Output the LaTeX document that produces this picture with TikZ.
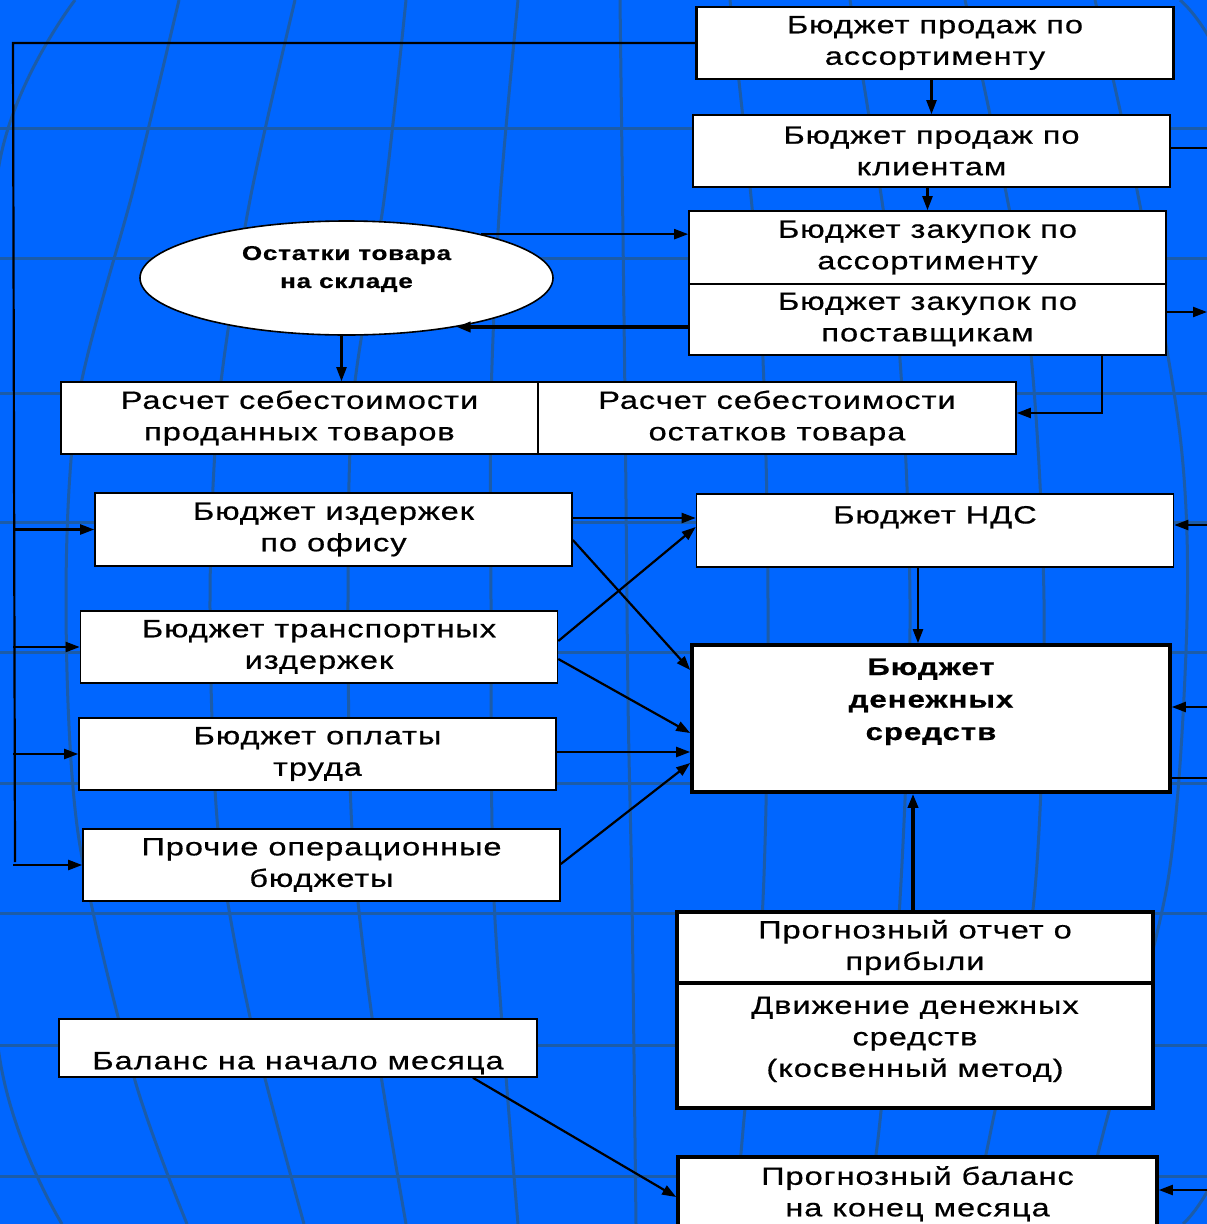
\documentclass[tikz,border=0pt]{standalone}
\usepackage{fontspec}
\setmainfont{Liberation Sans}[FakeStretch=1.3,LetterSpace=4,FakeBold=0.6]
\usetikzlibrary{arrows.meta,shapes.geometric}

\definecolor{slideblue}{RGB}{0,102,255}
\definecolor{gridblue}{RGB}{28,92,168}

\begin{document}
\begin{tikzpicture}[x=1pt,y=-1pt,
    box/.style={draw=black,fill=white,line width=1.6pt,minimum width=477pt,
      minimum height=72pt,inner sep=0pt,align=center,
      font=\fontsize{25}{31.5}\selectfont},
    heavy/.style={box,line width=3.6pt},
    arr/.style={line width=2.2pt,-{Triangle[length=14pt,width=10pt]}},
    link/.style={line width=2.2pt},
    mer/.style={gridblue,line width=3pt}]

      % Bounding box
      \fill[slideblue] (0,0) rectangle (1207,1224);
      \useasboundingbox (0,0) rectangle (1207,1224);

      % background grid
      \begin{scope}
        \clip (0,0) rectangle (1207,1224);
        \foreach \y in {128,258,393,522,652,783,913,1045,1176}
          \draw[mer] (0,\y) -- (1207,\y);
        \draw[mer] plot[smooth] coordinates {(75,0) (0,160) (-40,600) (0,1060) (62,1224)};
        \draw[mer] plot[smooth] coordinates {(179,0) (134,187) (78,400) (66,600) (78,833) (134,1077) (187,1224)};
        \draw[mer] plot[smooth] coordinates {(295,0) (250,200) (219,400) (210,600) (218,830) (250,1017) (304,1224)};
        \draw[mer] plot[smooth] coordinates {(406,0) (384,200) (353,400) (348,600) (352,830) (372,1017) (406,1224)};
        \draw[mer] plot[smooth] coordinates {(518,0) (500,200) (491,400) (491,600) (494,900) (518,1224)};
        \draw[mer] plot[smooth] coordinates {(620,0) (625,400) (628,700) (632,900) (636,1224)};
        \draw[mer] plot[smooth] coordinates {(730,0) (760,300) (768,600) (763,900) (743,1130) (735,1224)};
        \draw[mer] plot[smooth] coordinates {(850,0) (895,300) (910,600) (900,900) (879,1130) (865,1224)};
        \draw[mer] plot[smooth] coordinates {(965,0) (1025,300) (1044,600) (1034,900) (991,1130) (970,1224)};
        \draw[mer] plot[smooth] coordinates {(1095,0) (1137,190) (1180,435) (1187,620) (1168,880) (1104,1130) (1080,1224)};
        \draw[mer] plot[smooth] coordinates {(1180,0) (1235,120) (1250,600) (1235,1100) (1183,1224)};
      \end{scope}

      % left bus and right rim
      \coordinate (bustop) at (13,43);
      \coordinate (busbot) at (15,862);
      \coordinate (rim) at (1207,0);

      \draw[link] (935,43) -- (bustop) -- (busbot);

      \draw (935,43) node[box,line width=2.6pt] (b1) {Бюджет продаж по\\ассортименту};
      \draw (931.5,151) node[box] (b2) {Бюджет продаж по\\клиентам};
      \draw (927.5,247.5) node[box,minimum height=73pt] (b3) {Бюджет закупок по\\ассортименту};
      \draw (927.5,319.5) node[box,minimum height=71pt] (b4) {Бюджет закупок по\\поставщикам};
      \draw (346.5,278) node[box,ellipse,minimum width=413pt,minimum height=114pt,
        font=\fontsize{20}{28}\selectfont\bfseries] (stock) {Остатки товара\\на складе\\[-6pt]\mbox{}};

      \draw (299.5,418) node[box] (cost1) {Расчет себестоимости\\проданных товаров};
      \draw (777,418) node[box,minimum width=478pt] (cost2) {Расчет себестоимости\\остатков товара};

      \draw (333.5,529.5) node[box,minimum height=73pt] (office) {Бюджет издержек\\по офису};
      \draw (319,647) node[box] (trans) {Бюджет транспортных\\издержек};
      \draw (317.5,754) node[box] (wage) {Бюджет оплаты\\труда};
      \draw (321.5,865) node[box] (other) {Прочие операционные\\бюджеты};

      \draw (935,530.5) node[box,minimum height=73pt] (vat) {Бюджет НДС\\\mbox{}};
      \draw (931,718.5) node[heavy,minimum width=478pt,minimum height=147pt,
        font=\fontsize{24}{32.5}\selectfont\bfseries] (cash) {Бюджет\\денежных\\средств\\[6pt]\mbox{}};

      \draw (915,947.5) node[heavy,minimum width=476pt,minimum height=71pt] (profit) {Прогнозный отчет о\\прибыли};
      \draw (915,1045.5) node[heavy,minimum width=476pt,minimum height=125pt] (flow) {Движение денежных\\средств\\(косвенный метод)\\[-14pt]\mbox{}};
      \draw (298,1048) node[box,minimum width=478pt,minimum height=58pt] (open) {\mbox{}\\[16pt]Баланс на начало месяца};
      \draw (917.5,1200) node[heavy,minimum width=479pt,minimum height=86pt] (close) {Прогнозный баланс\\на конец месяца\\[-14pt]\mbox{}};

      % sales and purchases
      \draw[arr] (b1.south -| b2.north) -- (b2.north);
      \draw[arr] (b2.south -| b3.north) -- (b3.north);
      \draw[arr] (stock.18.6) -- (stock.18.6 -| b3.west);
      \draw[arr,line width=3.6pt] ([yshift=-7.5pt]b4.west) -- (stock.-24.9);
      \draw[arr] ([xshift=-5pt]stock.south) -- ([xshift=-5pt]stock.south |- cost1.north);
      \draw[arr] ([xshift=174.5pt]b4.south) |- ([yshift=5pt]cost2.east);

      % operating budgets
      \draw[arr] ([yshift=11.5pt]office.east) -- ([yshift=11.5pt]office.east -| vat.west);
      \draw[arr] ([yshift=-10.5pt]office.east) -- ([yshift=48.5pt]cash.west);
      \draw[arr] ([yshift=6pt]trans.east) -- ([yshift=3.5pt]vat.west);
      \draw[arr] ([yshift=-12pt]trans.east) -- ([yshift=-14.5pt]cash.west);
      \draw[arr] ([yshift=2pt]wage.east) -- ([yshift=2pt]wage.east -| cash.west);
      \draw[arr] ([yshift=1pt]other.east) -- ([yshift=-44.5pt]cash.west);
      \draw[arr] ([xshift=-17pt]vat.south) -- ([xshift=-17pt]vat.south |- cash.north);
      \draw[arr,line width=3.4pt] ([xshift=-2pt]profit.north) -- ([xshift=-2pt]profit.north |- cash.south);
      \draw[arr] ([xshift=175pt]open.south) -- ([yshift=3pt]close.west);

      % left bus
      \draw[arr] (bustop |- office.west) -- (office.west);
      \draw[arr] (bustop |- trans.west) -- (trans.west);
      \draw[arr] (bustop |- wage.west) -- (wage.west);
      \draw[arr] (bustop |- other.west) -- (other.west);

      % right rim
      \draw[link] ([yshift=3pt]b2.east) -- ([yshift=3pt]b2.east -| rim);
      \draw[arr] ([yshift=7.5pt]b4.east) -- ([yshift=7.5pt]b4.east -| rim);
      \draw[arr] ([yshift=5.5pt]vat.east -| rim) -- ([yshift=5.5pt]vat.east);
      \draw[arr] ([yshift=11.5pt]cash.east -| rim) -- ([yshift=11.5pt]cash.east);
      \draw[link] ([yshift=-59.5pt]cash.east) -- ([yshift=-59.5pt]cash.east -| rim);
      \draw[arr] ([yshift=10pt]close.east -| rim) -- ([yshift=10pt]close.east);
    \end{tikzpicture}
\end{document}
